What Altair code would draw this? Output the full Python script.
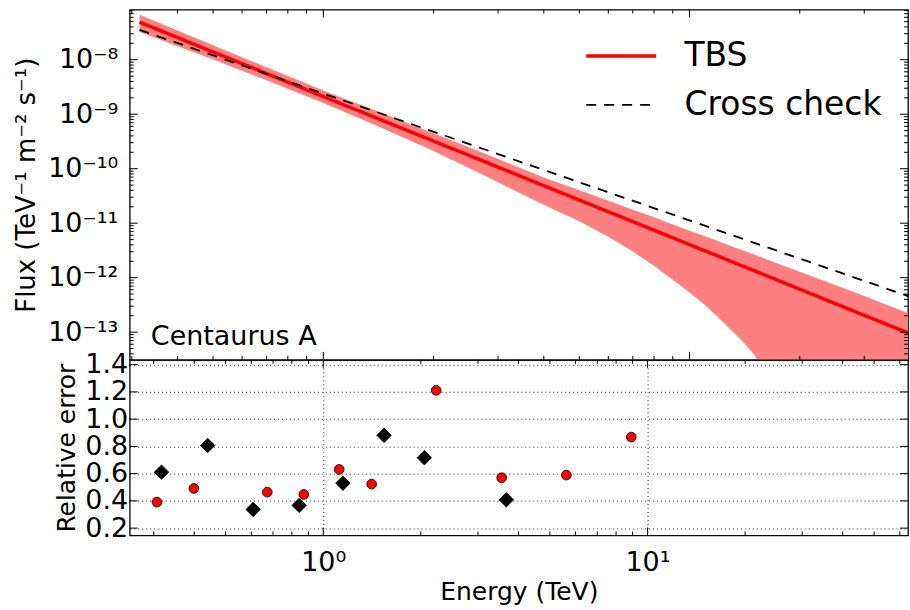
import json
import altair as alt
import pandas as pd

# ---------------- data ----------------
series_names = ["TBS", "Cross check"]

# TBS best-fit spectrum and its uncertainty band (TeV, TeV^-1 m^-2 s^-1)
tbs_energy = [0.315, 0.4, 0.5, 0.7, 1.0, 1.4, 2.0, 2.8, 4.0, 5.0, 6.0, 7.0, 8.0, 9.0,
              10.0, 11.0, 12.0, 13.0, 14.0, 15.0, 15.5, 15.7, 16.0, 20.0, 25.0, 30.0, 40.0]
tbs_flux = [4.89e-8, 2.55e-8, 1.39e-8, 5.57e-9, 2.11e-9, 8.47e-10, 3.21e-10, 1.29e-10,
            4.89e-11, 2.66e-11, 1.62e-11, 1.07e-11, 7.43e-12, 5.40e-12, 4.05e-12, 3.12e-12,
            2.47e-12, 1.98e-12, 1.62e-12, 1.35e-12, 1.23e-12, 1.19e-12, 1.13e-12, 6.15e-13,
            3.35e-13, 2.04e-13, 9.35e-14]
band_high = [6.67e-8, 3.44e-8, 1.85e-8, 7.26e-9, 2.72e-9, 1.14e-9, 4.49e-10, 1.82e-10,
             6.90e-11, 4.03e-11, 2.57e-11, 1.77e-11, 1.28e-11, 9.48e-12, 7.28e-12, 5.75e-12,
             4.65e-12, 3.78e-12, 3.16e-12, 2.65e-12, 2.44e-12, 2.36e-12, 2.25e-12, 1.29e-12,
             7.33e-13, 4.62e-13, 2.17e-13]
band_low = [3.21e-8, 1.77e-8, 1.01e-8, 4.18e-9, 1.60e-9, 6.14e-10, 2.12e-10, 7.08e-11,
            2.18e-11, 1.08e-11, 5.62e-12, 3.01e-12, 1.66e-12, 9.19e-13, 5.35e-13, 3.17e-13,
            1.83e-13, 1.08e-13, 6.64e-14, 3.89e-14, 2.80e-14, 1e-16, 1e-16, 1e-16,
            1e-16, 1e-16, 1e-16]

# cross-check spectrum
cc_energy = [0.315, 40.0]
cc_flux = [3.52e-8, 4.46e-13]

# relative errors (bottom panel)
tbs_err_energy = [0.307, 0.399, 0.672, 0.871, 1.12, 1.41, 2.23, 3.55, 5.62, 8.91]
tbs_err = [0.391, 0.491, 0.464, 0.447, 0.631, 0.523, 1.211, 0.570, 0.589, 0.868]
cc_err_energy = [0.317, 0.44, 0.608, 0.843, 1.15, 1.54, 2.05, 3.67]
cc_err = [0.611, 0.807, 0.337, 0.367, 0.530, 0.881, 0.717, 0.408]

# source label
source_name = ["Centaurus A"]
source_pos_energy = [0.338]
source_pos_flux = [5.7e-14]

# axes
top_x_domain = [0.296, 39.5]
top_y_domain = [3.1e-14, 8.3e-8]
bot_x_domain = [0.253, 63.6]
bot_y_domain = [0.146, 1.435]

flux_tick_values = [1e-13, 1e-12, 1e-11, 1e-10, 1e-9, 1e-8]
flux_tick_labels = ["10⁻¹³", "10⁻¹²", "10⁻¹¹", "10⁻¹⁰", "10⁻⁹", "10⁻⁸"]
energy_tick_values = [1.0, 10.0]
energy_tick_labels = ["10⁰", "10¹"]
err_tick_values = [0.2, 0.4, 0.6, 0.8, 1.0, 1.2, 1.4]

decade_mult = [2, 3, 4, 5, 6, 7, 8, 9]
top_x_minor = [m * 10.0 ** e for e in (-1, 0, 1) for m in decade_mult
               if top_x_domain[0] < m * 10.0 ** e < top_x_domain[1]]
bot_x_minor = [m * 10.0 ** e for e in (-1, 0, 1) for m in decade_mult
               if bot_x_domain[0] < m * 10.0 ** e < bot_x_domain[1]]
top_y_minor = [m * 10.0 ** e for e in range(-14, -7) for m in decade_mult
               if top_y_domain[0] < m * 10.0 ** e < top_y_domain[1]]

# ---------------- layout constants ----------------
W = 780
H_TOP = 351
H_BOT = 176
MAJ = 8
MIN = 4
FONT = "DejaVu Sans"


def label_expr(values, labels):
    return "%s[indexof(%s, datum.value)]" % (
        json.dumps(labels, ensure_ascii=False), json.dumps(values))


# ---------------- top panel ----------------
x_top = dict(scale=alt.Scale(type="log", domain=top_x_domain, nice=False), axis=None)
y_top_axis = alt.Axis(
    values=flux_tick_values,
    labelExpr=label_expr(flux_tick_values, flux_tick_labels),
    title="Flux (TeV⁻¹ m⁻² s⁻¹)",
    ticks=False, tickSize=0, domain=False, grid=False,
    labelFontSize=27, labelPadding=12, titleFontSize=26, titlePadding=8,
)
y_top_scale = alt.Scale(type="log", domain=top_y_domain, nice=False)

band_df = pd.DataFrame({"energy": tbs_energy, "low": band_low, "high": band_high})
band = alt.Chart(band_df).mark_area(color="#ff8080", opacity=1, clip=True).encode(
    x=alt.X("energy:Q", **x_top),
    y=alt.Y("low:Q", scale=y_top_scale, axis=y_top_axis),
    y2="high:Q",
)

lines_df = pd.DataFrame({
    "energy": tbs_energy + cc_energy,
    "flux": tbs_flux + cc_flux,
    "series": [series_names[0]] * len(tbs_energy) + [series_names[1]] * len(cc_energy),
})
legend = alt.Legend(
    title=None, orient="none", legendX=476, legendY=30, direction="vertical",
    symbolType="stroke", symbolSize=4900, labelFontSize=33, labelFont=FONT,
    labelColor="black", labelOffset=47, rowPadding=15, padding=0, labelLimit=500,
    symbolDash=alt.ExprRef("datum.value == 'Cross check' ? [10, 8] : [1, 0]"),
    symbolStrokeWidth=alt.ExprRef("datum.value == 'Cross check' ? 1.8 : 3.5"),
)
lines = alt.Chart(lines_df).mark_line(clip=True).encode(
    x=alt.X("energy:Q", **x_top),
    y=alt.Y("flux:Q", scale=y_top_scale, axis=y_top_axis),
    color=alt.Color("series:N", scale=alt.Scale(domain=series_names, range=["#ff0000", "#000000"]),
                    legend=legend),
    strokeDash=alt.StrokeDash("series:N", scale=alt.Scale(domain=series_names, range=[[1, 0], [10, 8]]),
                              legend=None),
    strokeWidth=alt.StrokeWidth("series:N", scale=alt.Scale(domain=series_names, range=[3.5, 1.8]),
                                legend=None),
    order=alt.Order("series:N", sort="descending"),
)

label_df = pd.DataFrame({"energy": source_pos_energy, "flux": source_pos_flux, "text": source_name})
source_label = alt.Chart(label_df).mark_text(
    align="left", baseline="alphabetic", fontSize=27, font=FONT, color="black"
).encode(
    x=alt.X("energy:Q", **x_top),
    y=alt.Y("flux:Q", scale=y_top_scale, axis=y_top_axis),
    text="text:N",
)


def x_tick_layers(values, length, x_enc, h):
    df = pd.DataFrame({"t": values})
    base = alt.Chart(df).mark_rule(color="black", strokeWidth=1)
    return [
        base.encode(x=alt.X("t:Q", **x_enc), y=alt.value(0), y2=alt.value(length)),
        base.encode(x=alt.X("t:Q", **x_enc), y=alt.value(h), y2=alt.value(h - length)),
    ]


def y_tick_layers(values, length, y_scale, y_axis):
    df = pd.DataFrame({"t": values})
    base = alt.Chart(df).mark_rule(color="black", strokeWidth=1)
    return [
        base.encode(y=alt.Y("t:Q", scale=y_scale, axis=y_axis), x=alt.value(0), x2=alt.value(length)),
        base.encode(y=alt.Y("t:Q", scale=y_scale, axis=y_axis), x=alt.value(W), x2=alt.value(W - length)),
    ]


top_ticks = (
    x_tick_layers(energy_tick_values, MAJ, x_top, H_TOP)
    + x_tick_layers(top_x_minor, MIN, x_top, H_TOP)
    + y_tick_layers(flux_tick_values, MAJ, y_top_scale, y_top_axis)
    + y_tick_layers(top_y_minor, MIN, y_top_scale, y_top_axis)
)

top = alt.layer(band, lines, source_label, *top_ticks).properties(width=W, height=H_TOP)

# ---------------- bottom panel ----------------
x_bot_scale = alt.Scale(type="log", domain=bot_x_domain, nice=False)
x_bot_axis = alt.Axis(
    values=energy_tick_values,
    labelExpr=label_expr(energy_tick_values, energy_tick_labels),
    title="Energy (TeV)",
    ticks=False, tickSize=0, domain=False, grid=True,
    gridColor="black", gridDash=[1, 3], gridWidth=1, gridOpacity=0.85,
    labelFontSize=27, labelPadding=14, titleFontSize=25, titlePadding=4,
)
x_bot = dict(scale=x_bot_scale, axis=x_bot_axis)
y_bot_scale = alt.Scale(domain=bot_y_domain, nice=False, zero=False)
y_bot_axis = alt.Axis(
    values=err_tick_values, format=".1f", title="Relative error",
    ticks=False, tickSize=0, domain=False, grid=True,
    gridColor="black", gridDash=[1, 3], gridWidth=1, gridOpacity=0.85,
    labelFontSize=27, labelPadding=2, titleFontSize=25, titlePadding=5,
)

err_df = pd.DataFrame({
    "energy": tbs_err_energy + cc_err_energy,
    "err": tbs_err + cc_err,
    "series": [series_names[0]] * len(tbs_err_energy) + [series_names[1]] * len(cc_err_energy),
})
points = alt.Chart(err_df).mark_point(filled=True, stroke="black", strokeWidth=0.8, opacity=1).encode(
    x=alt.X("energy:Q", **x_bot),
    y=alt.Y("err:Q", scale=y_bot_scale, axis=y_bot_axis),
    shape=alt.Shape("series:N", scale=alt.Scale(domain=series_names, range=["circle", "diamond"]), legend=None),
    fill=alt.Fill("series:N", scale=alt.Scale(domain=series_names, range=["#ff0000", "#000000"]), legend=None),
    size=alt.Size("series:N", scale=alt.Scale(domain=series_names, range=[95, 210]), legend=None),
)

bot_ticks = (
    x_tick_layers(energy_tick_values, MAJ, x_bot, H_BOT)
    + x_tick_layers(bot_x_minor, MIN, x_bot, H_BOT)
    + y_tick_layers(err_tick_values, MAJ, y_bot_scale, y_bot_axis)
)

bottom = alt.layer(points, *bot_ticks).properties(width=W, height=H_BOT)

chart = (
    alt.vconcat(top, bottom, spacing=0, bounds="flush")
    .resolve_scale(x="independent", y="independent", color="independent",
                   shape="independent", fill="independent", size="independent")
    .properties(padding={"left": 13, "top": 7, "right": 0, "bottom": 0}, background="white")
    .configure(font=FONT)
    .configure_view(stroke="black", strokeWidth=1.3)
    .configure_axis(labelColor="black", titleColor="black", titleFontWeight="normal",
                    labelFont=FONT, titleFont=FONT)
)

chart.save("out.html", embed_options={"renderer": "svg", "actions": False})
